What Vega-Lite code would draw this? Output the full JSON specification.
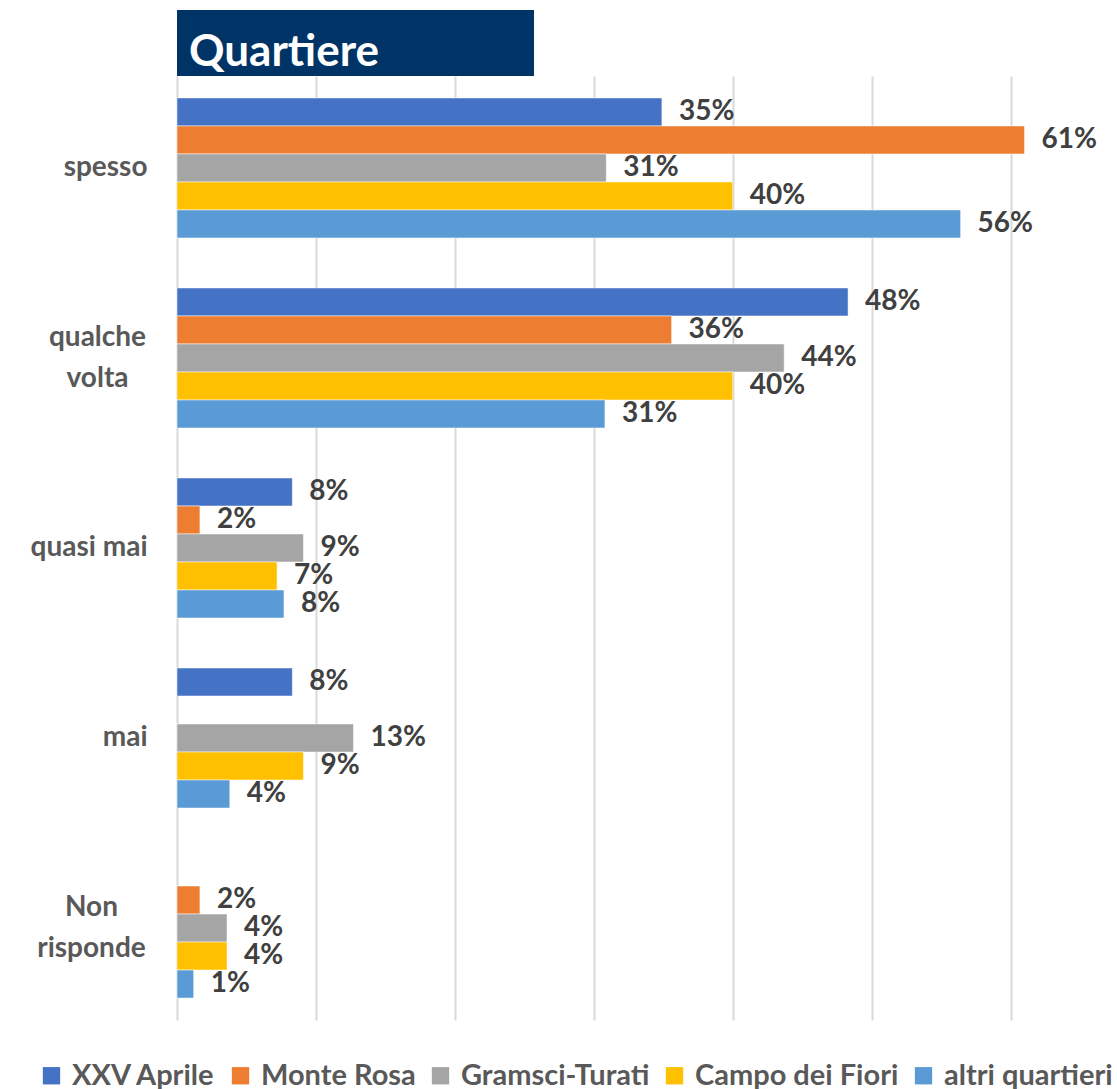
{
  "$schema": "https://vega.github.io/schema/vega-lite/v6.json",
  "background": "white",
  "padding": {"left": 30, "top": 10, "right": 2, "bottom": 2},
  "config": {"font": "Lato", "view": {"stroke": null}},
  "bounds": "flush",
  "spacing": 0,
  "resolve": {"scale": {"x": "independent", "y": "independent"}},
  "vconcat": [
    {
      "width": 357,
      "height": 66,
      "view": {"fill": "#003366", "stroke": null},
      "data": {"values": [{"t": "Quartiere"}]},
      "mark": {"type": "text", "align": "left", "baseline": "middle", "dx": 12, "dy": 10, "fontWeight": "bold", "fontSize": 44, "color": "white"},
      "encoding": {
        "text": {"field": "t"},
        "x": {"datum": 0, "type": "quantitative", "scale": {"domain": [0, 1]}, "axis": null},
        "y": {"datum": 0.5, "type": "quantitative", "scale": {"domain": [0, 1]}, "axis": null}
      }
    },
    {
      "width": 917,
      "height": 944,
      "data": {"values": [
        {"cat": "spesso", "q": "XXV Aprile", "v": 0.349},
        {"cat": "spesso", "q": "Monte Rosa", "v": 0.61},
        {"cat": "spesso", "q": "Gramsci-Turati", "v": 0.309},
        {"cat": "spesso", "q": "Campo dei Fiori", "v": 0.40},
        {"cat": "spesso", "q": "altri quartieri", "v": 0.564},
        {"cat": "qualche volta", "q": "XXV Aprile", "v": 0.483},
        {"cat": "qualche volta", "q": "Monte Rosa", "v": 0.356},
        {"cat": "qualche volta", "q": "Gramsci-Turati", "v": 0.437},
        {"cat": "qualche volta", "q": "Campo dei Fiori", "v": 0.40},
        {"cat": "qualche volta", "q": "altri quartieri", "v": 0.308},
        {"cat": "quasi mai", "q": "XXV Aprile", "v": 0.083},
        {"cat": "quasi mai", "q": "Monte Rosa", "v": 0.0165},
        {"cat": "quasi mai", "q": "Gramsci-Turati", "v": 0.091},
        {"cat": "quasi mai", "q": "Campo dei Fiori", "v": 0.072},
        {"cat": "quasi mai", "q": "altri quartieri", "v": 0.077},
        {"cat": "mai", "q": "XXV Aprile", "v": 0.083},
        {"cat": "mai", "q": "Gramsci-Turati", "v": 0.127},
        {"cat": "mai", "q": "Campo dei Fiori", "v": 0.091},
        {"cat": "mai", "q": "altri quartieri", "v": 0.038},
        {"cat": "Non risponde", "q": "Monte Rosa", "v": 0.0165},
        {"cat": "Non risponde", "q": "Gramsci-Turati", "v": 0.036},
        {"cat": "Non risponde", "q": "Campo dei Fiori", "v": 0.036},
        {"cat": "Non risponde", "q": "altri quartieri", "v": 0.012}
      ]},
      "encoding": {
        "y": {
          "field": "cat", "type": "nominal",
          "sort": ["spesso", "qualche volta", "quasi mai", "mai", "Non risponde"],
          "scale": {"domain": ["spesso", "qualche volta", "quasi mai", "mai", "Non risponde"], "paddingInner": 0.263, "paddingOuter": 0.1155},
          "axis": {
            "title": null, "domain": false, "ticks": false,
            "labelFontSize": 28, "labelFontWeight": "bold", "labelColor": "#595959",
            "labelLineHeight": 41, "labelLimit": 300,
            "labelAlign": {"condition": {"test": "datum.value == 'qualche volta' || datum.value == 'Non risponde'", "value": "center"}, "value": "right"},
            "labelPadding": {"condition": [{"test": "datum.value == 'qualche volta'", "value": 80}, {"test": "datum.value == 'Non risponde'", "value": 86}], "value": 30},
            "labelOffset": {"condition": {"test": "datum.value == 'qualche volta' || datum.value == 'Non risponde'", "value": -20}, "value": 0},
            "labelExpr": "datum.label == 'qualche volta' ? ['qualche', 'volta'] : datum.label == 'Non risponde' ? ['Non', 'risponde'] : datum.label"
          }
        },
        "yOffset": {
          "field": "q", "type": "nominal",
          "scale": {"domain": ["XXV Aprile", "Monte Rosa", "Gramsci-Turati", "Campo dei Fiori", "altri quartieri"], "paddingInner": 0, "paddingOuter": 0}
        },
        "x": {
          "field": "v", "type": "quantitative",
          "scale": {"domain": [0, 0.66], "nice": false, "zero": true},
          "axis": {"title": null, "labels": false, "ticks": false, "domain": false, "values": [0, 0.1, 0.2, 0.3, 0.4, 0.5, 0.6], "grid": true, "gridColor": "#D9D9D9", "gridWidth": 2}
        }
      },
      "layer": [
        {
          "mark": {"type": "bar", "stroke": "white", "strokeWidth": 0.5},
          "encoding": {
            "color": {
              "field": "q", "type": "nominal",
              "scale": {"domain": ["XXV Aprile", "Monte Rosa", "Gramsci-Turati", "Campo dei Fiori", "altri quartieri"], "range": ["#4472C4", "#ED7D31", "#A5A5A5", "#FFC000", "#5B9BD5"]},
              "legend": {
                "title": null, "orient": "none", "legendX": -140, "legendY": 1051, "direction": "horizontal",
                "symbolType": "square", "symbolSize": 300, "symbolStrokeWidth": 0,
                "labelFontSize": 29, "labelFontWeight": "bold", "labelColor": "#595959",
                "labelLimit": 400, "columnPadding": 10, "labelOffset": 6
              }
            }
          }
        },
        {
          "mark": {"type": "text", "align": "left", "baseline": "middle", "dx": 17, "fontSize": 28, "fontWeight": "bold", "color": "#404040"},
          "encoding": {"text": {"field": "v", "type": "quantitative", "format": ".0%"}}
        }
      ]
    }
  ]
}
